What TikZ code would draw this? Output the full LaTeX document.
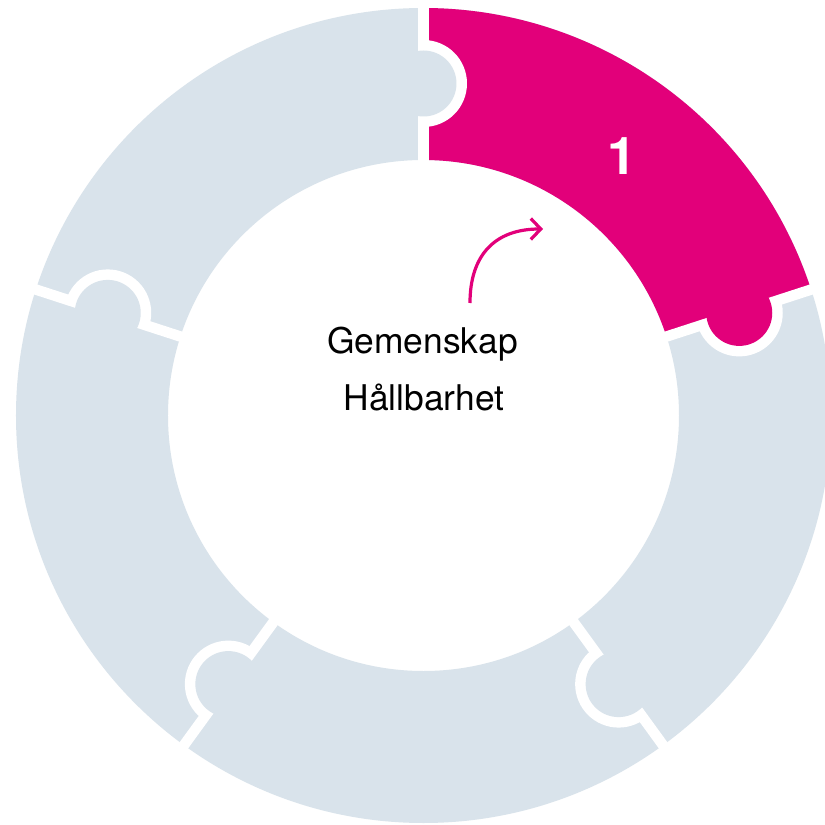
\documentclass[tikz,border=0pt]{standalone}
\usepackage{fontspec}
\setmainfont{TeX Gyre Heros}
\usetikzlibrary{arrows.meta}
\definecolor{mag}{HTML}{E2007A}
\definecolor{pgray}{HTML}{D9E3EB}
\tikzset{
  gapline/.style={white, line width=10.5pt},
  label/.style={font=\fontsize{35.4}{42}\selectfont, text=black, anchor=base, inner sep=0pt},
  numlabel/.style={font=\fontsize{52}{60}\selectfont\bfseries, text=white, inner sep=0pt},
  arr/.style={mag, line width=3.2pt, -{Straight Barb[length=10pt,width=21pt,line width=3.2pt]}}
}
\newcommand{\knob}[2]{%
  \begin{scope}
    \clip[rotate=#1] (-600,0) rectangle (600,-600);
    \fill[white] (#1:332) circle (43.5);
  \end{scope}
  \fill[#2] (#1:332) circle (33);
}
\begin{document}
\begin{tikzpicture}[x=1pt,y=1pt]
\useasboundingbox (-423.5,-409.5) rectangle (401.5,415.5);
\fill[white] (-423.5,-409.5) rectangle (401.5,415.5);
% ring
\fill[pgray, even odd rule] (0,0) circle (407.5) (0,0) circle (255.5);
% magenta sector
\fill[mag] (18:255.5) -- (18:407.5) arc[start angle=18,end angle=90,radius=407.5]
  -- (90:255.5) arc[start angle=90,end angle=18,radius=255.5] -- cycle;
% gaps
\foreach \a in {90,18,-54,-126,162} {\draw[gapline] (\a:250) -- (\a:413);}
% knobs
\knob{90}{pgray}
\knob{18}{mag}
\knob{-54}{pgray}
\knob{-126}{pgray}
\knob{162}{pgray}
% texts
\node[label] (t1) at (-1,62.5) {Gemenskap};
\node[label] (t2) at (0.5,5.5) {Hållbarhet};
\node[numlabel] (n1) at (198.5,259.5) {1};
% arrow
\coordinate (as) at (46.5,112.5);
\coordinate (ae) at (119.5,186.5);
\draw[arr] (as) .. controls (46.5,160.5) and (71.5,186.5) .. (ae);
\end{tikzpicture}
\end{document}
